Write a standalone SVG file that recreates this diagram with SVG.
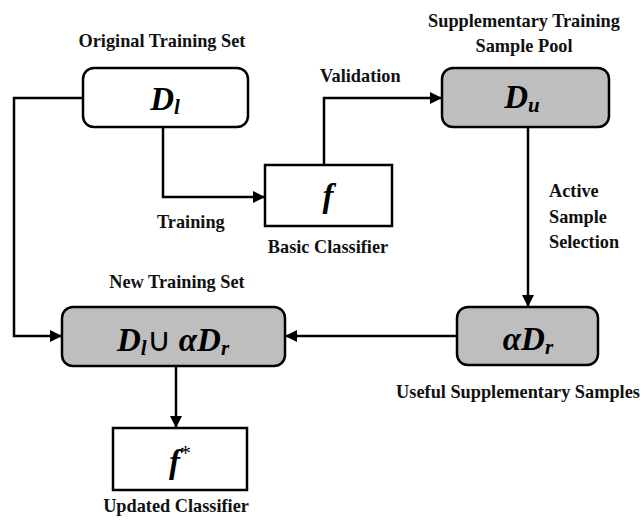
<svg xmlns="http://www.w3.org/2000/svg" width="643" height="521" viewBox="0 0 643 521">
<defs>
<style>
.box{fill:#fff;stroke:#000;stroke-width:2.5}
.gray{fill:#bebebe;stroke:#000;stroke-width:2.5}
.lbl{font-family:"Liberation Serif","Times New Roman",serif;font-weight:bold;font-size:18.3px;fill:#111}
.math{font-family:"Liberation Serif","Times New Roman",serif;font-weight:bold;font-style:italic;font-size:33px;fill:#000}
.sub{font-size:21px}
.conn{fill:none;stroke:#000;stroke-width:2.5}
</style>
<marker id="arr" markerWidth="12" markerHeight="12" refX="11" refY="6" orient="auto" markerUnits="userSpaceOnUse">
<path d="M0,0 L12,6 L0,12 Z" fill="#000"/>
</marker>
</defs>
<rect width="643" height="521" fill="#fff"/>
<g id="connectors">
<path class="conn" d="M83,98 H14 V336 H61" marker-end="url(#arr)"/>
<path class="conn" d="M163,127 V197 H264" marker-end="url(#arr)"/>
<path class="conn" d="M324,165 V98 H441" marker-end="url(#arr)"/>
<path class="conn" d="M528,127 V306" marker-end="url(#arr)"/>
<path class="conn" d="M457,336 H286" marker-end="url(#arr)"/>
<path class="conn" d="M176,366 V427" marker-end="url(#arr)"/>
</g>
<g id="node-Dl">
<rect class="box" x="83" y="68" width="165" height="59" rx="11"/>
<text class="math" x="165" y="110" text-anchor="middle">D<tspan class="sub" dy="4">l</tspan></text>
<text class="lbl" x="162" y="47" text-anchor="middle">Original Training Set</text>
</g>
<g id="node-f">
<rect class="box" x="265" y="165" width="127" height="61"/>
<text class="math" x="328" y="207" text-anchor="middle">f</text>
<text class="lbl" x="328" y="253" text-anchor="middle">Basic Classifier</text>
</g>
<g id="node-Du">
<rect class="gray" x="442" y="68" width="167" height="59" rx="11"/>
<text class="math" x="522" y="108" text-anchor="middle">D<tspan class="sub" dy="4">u</tspan></text>
<text class="lbl" x="524" y="27" text-anchor="middle">Supplementary Training</text>
<text class="lbl" x="524" y="52" text-anchor="middle">Sample Pool</text>
</g>
<g id="node-aDr">
<rect class="gray" x="457" y="307" width="141" height="58" rx="11"/>
<text class="math" x="528" y="350" text-anchor="middle">αD<tspan class="sub" dy="4">r</tspan></text>
<text class="lbl" x="518" y="398" text-anchor="middle">Useful Supplementary Samples</text>
</g>
<g id="node-union">
<rect class="gray" x="62" y="307" width="223" height="59" rx="11"/>
<text class="math" x="173" y="351" text-anchor="middle">D<tspan class="sub" dy="4">l</tspan><tspan dy="-4" font-style="normal" font-weight="normal">∪</tspan> αD<tspan class="sub" dy="4">r</tspan></text>
<text class="lbl" x="177" y="288" text-anchor="middle">New Training Set</text>
</g>
<g id="node-fstar">
<rect class="box" x="113" y="428" width="134" height="62"/>
<text class="math" x="180" y="473" text-anchor="middle">f<tspan font-size="22" font-style="normal" font-weight="normal" dy="-13">*</tspan></text>
<text class="lbl" x="176" y="512" text-anchor="middle">Updated Classifier</text>
</g>
<g id="edge-labels">
<text class="lbl" x="320" y="82">Validation</text>
<text class="lbl" x="157" y="228">Training</text>
<text class="lbl" x="549" y="197">Active</text>
<text class="lbl" x="549" y="223">Sample</text>
<text class="lbl" x="549" y="248">Selection</text>
</g>
</svg>
